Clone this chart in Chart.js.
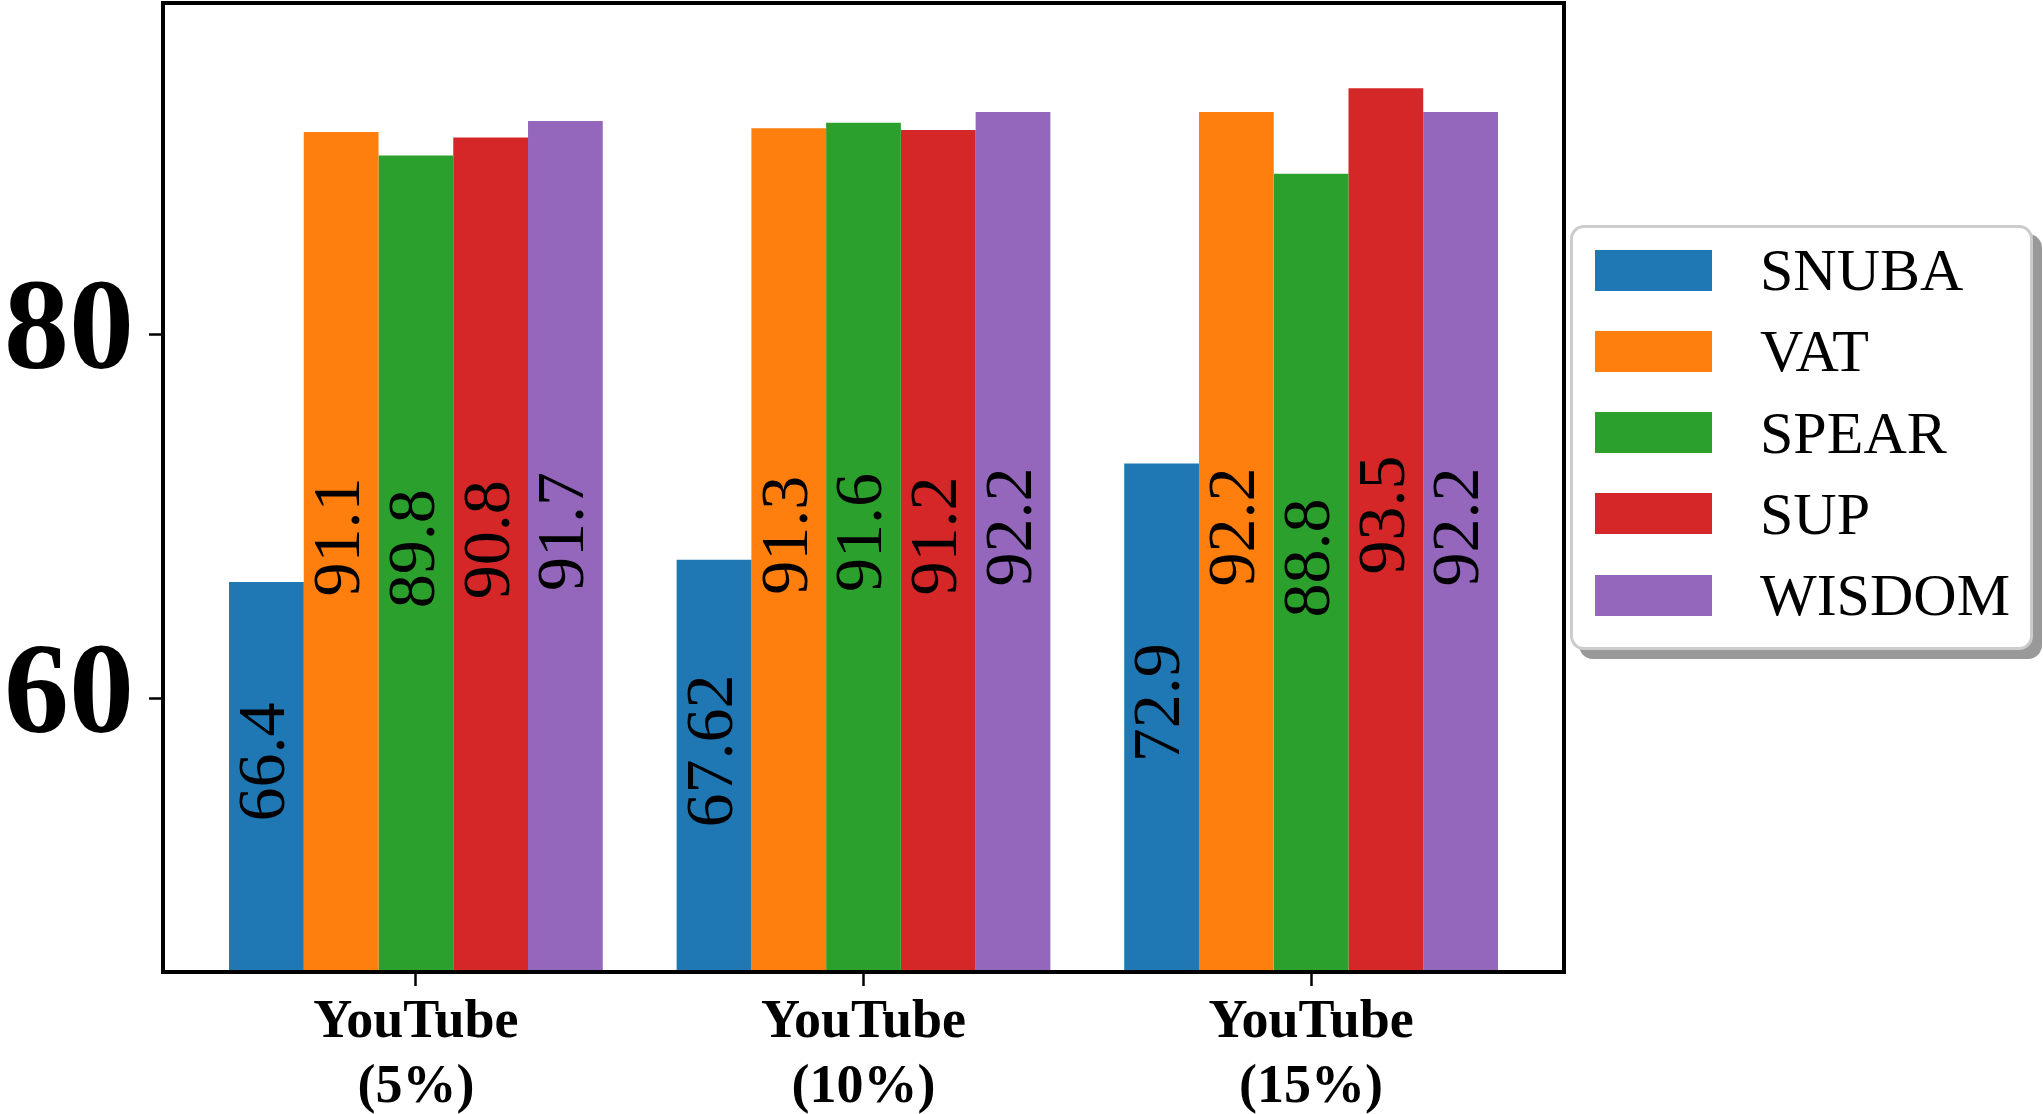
<!DOCTYPE html>
<html>
<head>
<meta charset="utf-8">
<script src="https://cdn.jsdelivr.net/npm/chart.js@4.4.0/dist/chart.umd.min.js"></script>
<style>
  body { margin: 0; background: #fff; }
  #wrap { position: relative; width: 2043px; height: 1114px; }
  #legend {
    position: absolute; left: 1570px; top: 225px; width: 457px; height: 419px;
    border: 3px solid #ccc; border-radius: 14px; background: #fff;
    box-shadow: 9px 9px 0 rgba(0, 0, 0, 0.4);
    font-family: 'Liberation Serif', serif; font-size: 60px; color: #000;
  }
  .item { position: absolute; left: 22px; height: 41px; }
  .sw { position: absolute; left: 0; top: 0; width: 117px; height: 41px; }
  .lbl { position: absolute; left: 165px; top: 50%; transform: translateY(-50%); line-height: 1; white-space: nowrap; }
</style>
</head>
<body>
<div id="wrap">
  <canvas id="chart"></canvas>
  <div id="legend"></div>
</div>
<script>
const categories = [['YouTube', '(5%)'], ['YouTube', '(10%)'], ['YouTube', '(15%)']];
const seriesNames = ['SNUBA', 'VAT', 'SPEAR', 'SUP', 'WISDOM'];
const seriesColors = ['#1f77b4', '#ff7f0e', '#2ca02c', '#d62728', '#9467bd'];
const snuba = [66.4, 67.62, 72.9];
const vat = [91.1, 91.3, 92.2];
const spear = [89.8, 91.6, 88.8];
const sup = [90.8, 91.2, 93.5];
const wisdom = [91.7, 92.2, 92.2];
const yTicks = [60, 80];

const series = [snuba, vat, spear, sup, wisdom];

// rotated value labels, centred in the visible part of each bar
const barLabels = {
  id: 'barLabels',
  afterDatasetsDraw(chart) {
    const ctx = chart.ctx;
    const bottom = chart.scales.y.bottom;
    ctx.save();
    ctx.font = '68px "Liberation Serif"';
    ctx.fillStyle = '#000';
    ctx.textAlign = 'center';
    ctx.textBaseline = 'middle';
    chart.data.datasets.forEach((ds, i) => {
      chart.getDatasetMeta(i).data.forEach((bar, j) => {
        const cy = (bar.y + bottom) / 2 - 15;
        ctx.save();
        ctx.translate(bar.x, cy);
        ctx.rotate(-Math.PI / 2);
        ctx.fillText(String(ds.data[j].y), 0, 0);
        ctx.restore();
      });
    });
    ctx.restore();
  }
};

// full box around the plot area
const frame = {
  id: 'frame',
  afterDraw(chart) {
    const { ctx, chartArea: a } = chart;
    ctx.save();
    ctx.lineWidth = 4;
    ctx.strokeStyle = '#000';
    ctx.strokeRect(a.left, a.top, a.right - a.left, a.bottom - a.top);
    ctx.restore();
  }
};

const tickGrid = {
  display: true,
  drawOnChartArea: false,
  drawTicks: true,
  tickLength: 14,
  tickWidth: 2.5,
  tickColor: '#000',
  offset: false
};

new Chart(document.getElementById('chart'), {
  type: 'bar',
  data: {
    datasets: series.map((vals, i) => ({
      label: seriesNames[i],
      data: vals.map((v, j) => ({ x: j, y: v })),
      backgroundColor: seriesColors[i],
      borderWidth: 0,
      categoryPercentage: 0.835,
      barPercentage: 1
    }))
  },
  options: {
    responsive: true,
    maintainAspectRatio: false,
    animation: false,
    layout: { padding: { top: 3, right: 479, left: 0, bottom: 0 } },
    plugins: {
      legend: { display: false },
      tooltip: { enabled: false }
    },
    scales: {
      x: {
        type: 'linear',
        min: -0.565,
        max: 2.565,
        offset: false,
        grid: tickGrid,
        border: { display: false },
        afterBuildTicks: (axis) => { axis.ticks = categories.map((c, i) => ({ value: i })); },
        afterFit: (scale) => { scale.height = 142; scale.paddingLeft = 0; scale.paddingRight = 0; },
        ticks: {
          color: '#000',
          padding: 5,
          maxRotation: 0,
          autoSkip: false,
          font: { family: 'Liberation Serif', size: 54, weight: 'bold', lineHeight: 1.2 },
          callback: (v) => categories[v]
        }
      },
      y: {
        min: 45,
        max: 98.175,
        grid: tickGrid,
        border: { display: false },
        afterBuildTicks: (axis) => { axis.ticks = yTicks.map(v => ({ value: v })); },
        afterFit: (scale) => { scale.width = 163; scale.paddingTop = 0; scale.paddingBottom = 0; },
        ticks: {
          color: '#000',
          padding: 15,
          font: { family: 'Liberation Serif', size: 130, weight: 'bold' }
        }
      }
    }
  },
  plugins: [barLabels, frame]
});

// legend box
const legend = document.getElementById('legend');
seriesNames.forEach((name, i) => {
  const item = document.createElement('div');
  item.className = 'item';
  item.style.top = (21.5 + i * 81.3) + 'px';
  item.innerHTML = '<div class="sw" style="background:' + seriesColors[i] + '"></div><div class="lbl">' + name + '</div>';
  legend.appendChild(item);
});
</script>
</body>
</html>
